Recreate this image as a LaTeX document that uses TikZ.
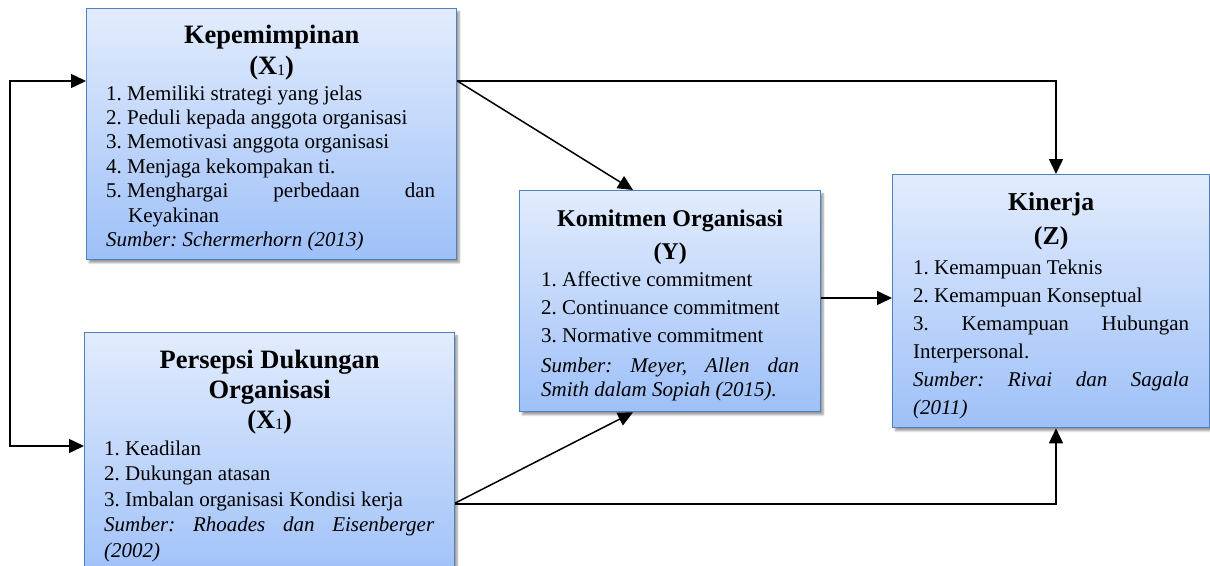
\documentclass[tikz,border=0pt]{standalone}
\usepackage{fontspec}
\setmainfont{Liberation Serif}
\usetikzlibrary{arrows.meta,calc,shadows.blur}

\definecolor{boxtop}{RGB}{226,236,253}
\definecolor{boxbot}{RGB}{158,192,248}
\definecolor{boxline}{RGB}{79,129,189}

\frenchspacing
\newcommand{\subone}{\raisebox{-1.5pt}{\fontsize{16}{16}\selectfont\mdseries 1}}
\newcommand{\just}[1]{\makebox[\linewidth][s]{#1}}

\tikzset{
  varbox/.style={draw=boxline, line width=1.3pt, top color=boxtop,
    bottom color=boxbot, anchor=north west, inner sep=0pt,
    blur shadow={shadow xshift=2.5pt, shadow yshift=-3pt,
      shadow opacity=40, shadow blur steps=8}},
  head/.style={anchor=base, inner sep=0pt,
    font=\bfseries\fontsize{26.5}{30}\selectfont},
  headsmall/.style={head, font=\bfseries\fontsize{24}{28}\selectfont},
  body/.style={anchor=base west, inner sep=0pt},
  conn/.style={line width=1.5pt, -{Triangle[length=15pt,width=14pt]}},
  conn2/.style={line width=1.5pt,
    {Triangle[length=15pt,width=14pt]}-{Triangle[length=15pt,width=14pt]}},
}

\begin{document}
\begin{tikzpicture}[x=1pt,y=-1pt]
\path[use as bounding box, clip] (0,0) rectangle (1210,565);

% variable boxes
\node[varbox, minimum width=370pt, minimum height=251pt] (x1) at (86,8) {};
\node[varbox, minimum width=370pt, minimum height=250pt] (x2) at (84,332) {};
\node[varbox, minimum width=301pt, minimum height=221pt] (kom) at (519,190) {};
\node[varbox, minimum width=317pt, minimum height=253pt] (kin) at (892,174) {};

% Kepemimpinan
\node[head] (x1h1) at ([yshift=-35pt]x1.north) {Kepemimpinan};
\node[head] (x1h2) at ([yshift=-66pt]x1.north) {(X\subone)};
\node[body] (x1b) at ([xshift=20pt,yshift=-92pt]x1.north west)
  {\parbox[t]{329pt}{\fontsize{21}{24.4}\selectfont\lineskiplimit=-50pt\raggedright
  1. Memiliki strategi yang jelas\\
  2. Peduli kepada anggota organisasi\\
  3. Memotivasi anggota organisasi\\
  4. Menjaga kekompakan ti.\\
  \just{5.\hspace{5.3pt}Menghargai perbedaan dan}\\
  \hspace*{22pt}Keyakinan\\
  \textit{Sumber: Schermerhorn (2013)}}};

% Persepsi Dukungan Organisasi
\node[head] (x2h1) at ([yshift=-36pt]x2.north) {Persepsi Dukungan};
\node[head] (x2h2) at ([yshift=-66pt]x2.north) {Organisasi};
\node[head] (x2h3) at ([yshift=-96pt]x2.north) {(X\subone)};
\node[body] (x2b) at ([xshift=20pt,yshift=-123pt]x2.north west)
  {\parbox[t]{330pt}{\fontsize{21}{25.5}\selectfont\lineskiplimit=-50pt\raggedright
  1. Keadilan\\
  2. Dukungan atasan\\
  3. Imbalan organisasi Kondisi kerja\\
  \just{\itshape Sumber: Rhoades dan Eisenberger}\\
  \textit{(2002)}}};

% Komitmen Organisasi
\node[headsmall] (komh1) at ([yshift=-36pt]kom.north) {Komitmen Organisasi};
\node[headsmall] (komh2) at ([yshift=-69pt]kom.north) {(Y)};
\node[body] (komb) at ([xshift=22pt,yshift=-96pt]kom.north west)
  {\parbox[t]{258pt}{\fontsize{21}{28}\selectfont\lineskiplimit=-50pt\raggedright
  1. Affective commitment\\
  2. Continuance commitment\\
  3. Normative commitment\\[2pt]
  \just{\itshape Sumber: Meyer, Allen dan}\\[-4pt]
  \textit{Smith dalam Sopiah (2015).}}};

% Kinerja
\node[head, font=\bfseries\fontsize{25.8}{30}\selectfont] (kinh1) at ([yshift=-36pt]kin.north) {Kinerja};
\node[head, font=\bfseries\fontsize{25.8}{30}\selectfont] (kinh2) at ([yshift=-70pt]kin.north) {(Z)};
\node[body] (kinb) at ([xshift=21pt,yshift=-100pt]kin.north west)
  {\parbox[t]{276pt}{\fontsize{21}{28}\selectfont\lineskiplimit=-50pt\raggedright
  1. Kemampuan Teknis\\
  2. Kemampuan Konseptual\\
  \just{3. Kemampuan Hubungan}\\
  Interpersonal.\\
  \just{\itshape Sumber: Rivai dan Sagala}\\
  \textit{(2011)}}};

% connector ports
\coordinate (x1in)  at ([yshift=-73pt]x1.north west);
\coordinate (x1out) at ([yshift=-73pt]x1.north east);
\coordinate (x2in)  at ([yshift=-114pt]x2.north west);
\coordinate (x2out) at ([yshift=-171pt]x2.north east);
\coordinate (x2low) at ([yshift=-172pt]x2.north east);
\coordinate (komtop) at ([xshift=114pt]kom.north west);
\coordinate (kombot) at ([xshift=114pt]kom.south west);
\coordinate (komout) at ([yshift=-108pt]kom.north east);
\coordinate (kinin)  at (kin.west |- komout);
\coordinate (kintop) at ([xshift=164pt]kin.north west);
\coordinate (kinbot) at ([xshift=164pt]kin.south west);
\coordinate (loopa) at (10,0 |- x1in);
\coordinate (loopb) at (10,0 |- x2in);

% connectors
\draw[conn2] (x1in) -- (loopa) -- (loopb) -- (x2in);
\draw[conn] (x1out) -- (komtop);
\draw[conn] (x1out) -| (kintop);
\draw[conn] (x2out) -- (kombot);
\draw[conn] (x2low) -| (kinbot);
\draw[conn] (komout) -- (kinin);
\end{tikzpicture}
\end{document}
